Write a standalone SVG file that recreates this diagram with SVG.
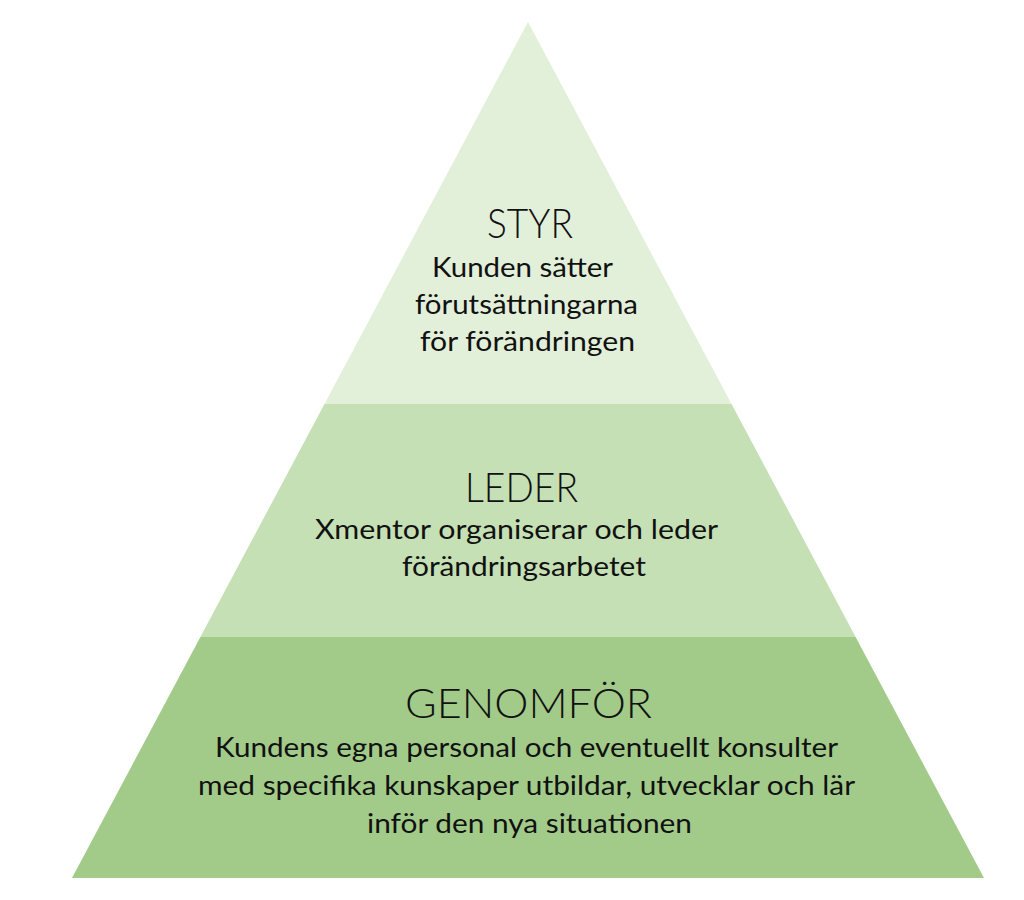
<svg xmlns="http://www.w3.org/2000/svg" width="1024" height="900" viewBox="0 0 1024 900">
  <style>
    .title { font-family: "Lato", "DejaVu Sans", sans-serif; font-size: 41px; font-weight: 300; fill: #111; text-anchor: middle; }
    .body { font-family: "Lato", "Open Sans", sans-serif; font-size: 26px; fill: #111; text-anchor: middle; }
    .top { fill: #e2efd9; }
    .mid { fill: #c5e0b4; }
    .bot { fill: #a2cb8a; }
  </style>
  <rect width="1024" height="900" fill="#ffffff"/>
  <g id="styr">
    <polygon class="top" points="528,22 731.5,404 324.5,404"/>
    <text class="title" x="530" y="238" textLength="86" lengthAdjust="spacingAndGlyphs">STYR</text>
    <text class="body" x="522.5" y="277" textLength="181" lengthAdjust="spacingAndGlyphs">Kunden sätter</text>
    <text class="body" x="526.5" y="314" textLength="223" lengthAdjust="spacingAndGlyphs">förutsättningarna</text>
    <text class="body" x="527.5" y="351" textLength="215" lengthAdjust="spacingAndGlyphs">för förändringen</text>
  </g>
  <g id="leder">
    <polygon class="mid" points="324.5,404 731.5,404 855.6,637 200.4,637"/>
    <text class="title" x="521.5" y="502" textLength="113" lengthAdjust="spacingAndGlyphs">LEDER</text>
    <text class="body" x="516.5" y="539" textLength="403" lengthAdjust="spacingAndGlyphs">Xmentor organiserar och leder</text>
    <text class="body" x="524" y="576" textLength="244" lengthAdjust="spacingAndGlyphs">förändringsarbetet</text>
  </g>
  <g id="genomfor">
    <polygon class="bot" points="200.4,637 855.6,637 984,878 72,878"/>
    <text class="title" x="528.5" y="718" textLength="247" lengthAdjust="spacingAndGlyphs">GENOMFÖR</text>
    <text class="body" x="526.5" y="757" textLength="623" lengthAdjust="spacingAndGlyphs">Kundens egna personal och eventuellt konsulter</text>
    <text class="body" x="526.5" y="795" textLength="657" lengthAdjust="spacingAndGlyphs">med specifika kunskaper utbildar, utvecklar och lär</text>
    <text class="body" x="529.5" y="833" textLength="325" lengthAdjust="spacingAndGlyphs">inför den nya situationen</text>
  </g>
</svg>
